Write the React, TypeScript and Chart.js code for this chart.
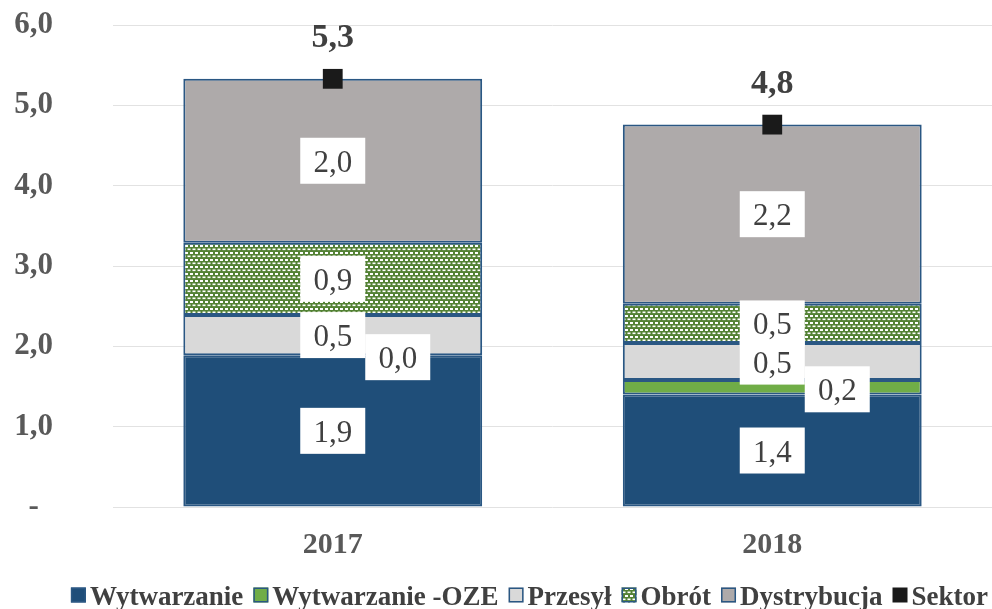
import React, { useEffect, useRef } from 'react';
import { Chart, registerables } from 'chart.js';

Chart.register(...registerables);

const categories = ['2017', '2018'];
const seriesNames = ['Wytwarzanie', 'Wytwarzanie -OZE', 'Przesył', 'Obrót', 'Dystrybucja', 'Sektor'];
const wytwarzanie = [1.89, 1.40];
const wytwarzanieOZE = [0.0, 0.18];
const przesyl = [0.50, 0.46];
const obrot = [0.90, 0.49];
const dystrybucja = [2.04, 2.23];
const sektor = [5.33, 4.76];
const yTicks = [0, 1, 2, 3, 4, 5, 6];

const FONT = '"Liberation Serif", "Times New Roman", serif';
const fmt = (v: number) => v.toFixed(1).replace('.', ',');

function makePattern(): CanvasPattern | string {
  const c = document.createElement('canvas');
  c.width = 10;
  c.height = 7;
  const g = c.getContext('2d');
  if (!g) return '#548235';
  g.fillStyle = '#548235';
  g.fillRect(0, 0, 10, 7);
  g.fillStyle = '#ffffff';
  g.fillRect(0, 0, 3, 2);
  g.fillRect(5, 0, 3, 2);
  g.fillRect(2.5, 3.5, 3, 1.6);
  g.fillRect(7.5, 3.5, 3, 1.6);
  g.fillRect(-2.5, 3.5, 3, 1.6);
  const p = g.createPattern(c, 'repeat');
  return p || '#548235';
}

const labelPlugin = {
  id: 'segLabels',
  afterDatasetsDraw(chart: any) {
    const ctx = chart.ctx;
    ctx.save();
    const boxes: { x: number; y: number; t: string }[] = [];
    chart.data.datasets.forEach((ds: any, i: number) => {
      const meta = chart.getDatasetMeta(i);
      if (meta.type !== 'bar') return;
      meta.data.forEach((el: any, j: number) => {
        const p = el.getProps(['x', 'y', 'base'], true);
        let cx = p.x;
        let cy = (p.y + p.base) / 2;
        if (i === 1) {
          cx += 65;
          cy += 2;
        }
        boxes.push({ x: cx, y: cy, t: fmt(ds.data[j]) });
      });
    });
    ctx.fillStyle = '#ffffff';
    boxes.forEach((b) => ctx.fillRect(b.x - 32.5, b.y - 23, 65, 46));
    ctx.fillStyle = '#404040';
    ctx.font = '31px ' + FONT;
    ctx.textAlign = 'center';
    ctx.textBaseline = 'alphabetic';
    boxes.forEach((b) => ctx.fillText(b.t, b.x, b.y + 11));
    chart.data.datasets.forEach((ds: any, i: number) => {
      const meta = chart.getDatasetMeta(i);
      if (meta.type !== 'line') return;
      ctx.font = 'bold 34px ' + FONT;
      ctx.fillStyle = '#404040';
      meta.data.forEach((el: any, j: number) => {
        ctx.fillText(fmt(ds.data[j]), el.x, el.y - 32);
      });
    });
    ctx.restore();
  },
};

const legendPlugin = {
  id: 'bottomLegend',
  afterDraw(chart: any) {
    const ctx = chart.ctx;
    ctx.save();
    ctx.font = 'bold 27px ' + FONT;
    const items = chart.data.datasets.map((ds: any) => ({ ds, w: ctx.measureText(ds.label).width }));
    const box = 15;
    const gapBT = 4;
    const gapItem = 10;
    const total =
      items.reduce((s: number, it: any) => s + box + gapBT + it.w, 0) + gapItem * (items.length - 1);
    let x = chart.width - 4 - total;
    const cy = chart.height - 14;
    items.forEach((it: any) => {
      ctx.fillStyle = it.ds.backgroundColor;
      ctx.fillRect(x, cy - box / 2, box, box);
      if (it.ds.type !== 'line') {
        ctx.strokeStyle = it.ds.borderColor;
        ctx.lineWidth = 1.5;
        ctx.strokeRect(x + 0.75, cy - box / 2 + 0.75, box - 1.5, box - 1.5);
      }
      x += box + gapBT;
      ctx.fillStyle = '#404040';
      ctx.textAlign = 'left';
      ctx.textBaseline = 'alphabetic';
      ctx.fillText(it.ds.label, x, chart.height - 4);
      x += it.w + gapItem;
    });
    ctx.restore();
  },
};

export default function App() {
  const ref = useRef<HTMLCanvasElement>(null);
  useEffect(() => {
    if (!ref.current) return;
    const pattern = makePattern();
    const border = '#2A5783';
    const barCommon = {
      type: 'bar' as const,
      borderColor: border,
      borderWidth: 2,
      borderSkipped: false,
      barPercentage: 0.68,
      categoryPercentage: 1,
    };
    const chart = new Chart(ref.current, {
      type: 'bar',
      data: {
        labels: categories,
        datasets: [
          { ...barCommon, label: seriesNames[0], data: wytwarzanie, backgroundColor: '#1F4E79' },
          { ...barCommon, label: seriesNames[1], data: wytwarzanieOZE, backgroundColor: '#70AD47' },
          { ...barCommon, label: seriesNames[2], data: przesyl, backgroundColor: '#D9D9D9' },
          { ...barCommon, label: seriesNames[3], data: obrot, backgroundColor: pattern as any },
          { ...barCommon, label: seriesNames[4], data: dystrybucja, backgroundColor: '#AEAAAA' },
          {
            type: 'line',
            label: seriesNames[5],
            data: sektor,
            showLine: false,
            pointStyle: 'rect',
            pointRadius: 14,
            pointHoverRadius: 14,
            backgroundColor: '#1A1A1A',
            borderColor: '#1A1A1A',
            borderWidth: 0,
            order: -1,
            stack: 'total',
          } as any,
        ],
      },
      options: {
        responsive: false,
        animation: false,
        layout: { autoPadding: false, padding: { top: 25, right: 0, left: 0, bottom: 34 } },
        plugins: {
          tooltip: { enabled: false },
          legend: { display: false },
        },
        scales: {
          x: {
            stacked: true,
            grid: { display: false },
            border: { display: false },
            ticks: {
              font: { family: FONT, size: 30, weight: 'bold' },
              color: '#595959',
              padding: 12,
            },
          },
          y: {
            stacked: true,
            min: 0,
            max: 6,
            afterBuildTicks: (s: any) => {
              s.ticks = yTicks.map((v) => ({ value: v }));
            },
            afterFit: (s: any) => {
              s.width = 113;
            },
            ticks: {
              font: { family: FONT, size: 31, weight: 'bold' },
              color: '#595959',
              crossAlign: 'center',
              padding: 0,
              callback: (v: any) => (Number(v) === 0 ? '-' : fmt(Number(v))),
            },
            grid: {
              color: '#E2E2E2',
              drawTicks: true,
              tickLength: 60,
              tickColor: 'rgba(0,0,0,0)',
              lineWidth: 1,
            },
            border: { display: false },
          },
        },
      },
      plugins: [labelPlugin, legendPlugin],
    } as any);
    return () => chart.destroy();
  }, []);
  return (
    <div style={{ position: 'fixed', left: 0, top: 0, width: 992, height: 609, background: '#fff' }}>
      <canvas ref={ref} width={992} height={609} style={{ display: 'block' }} />
    </div>
  );
}
